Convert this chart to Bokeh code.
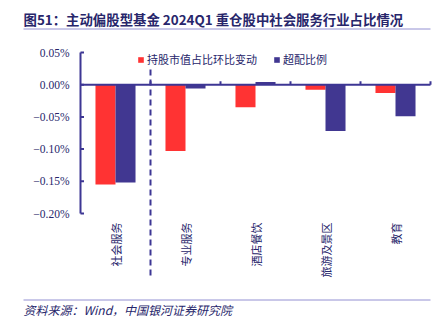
import math
from bokeh.plotting import figure
from bokeh.models import Range1d, Label
from bokeh.core.properties import value
from bokeh.embed import file_html
from bokeh.resources import INLINE
from bokeh.models import Legend, LegendItem

# ---- data ----
categories = ["社会服务", "专业服务", "酒店餐饮", "旅游及景区", "教育"]
mv_change = [-0.155, -0.103, -0.035, -0.008, -0.013]    # 持股市值占比环比变动 (%)
overweight = [-0.152, -0.006, 0.004, -0.072, -0.049]    # 超配比例 (%)
series_names = ["持股市值占比环比变动", "超配比例"]
y_ticks = [0.05, 0.0, -0.05, -0.10, -0.15, -0.20]
y_tick_labels = ["0.05%", "0.00%", "\u22120.05%", "\u22120.10%", "\u22120.15%", "\u22120.20%"]
title_text = "图51：主动偏股型基金 2024Q1 重仓股中社会服务行业占比情况"
source_text = "资料来源：Wind，中国银河证券研究院"

# ---- style ----
RED = "#FF3333"
PURPLE = "#413791"
AXIS = "#3d3694"
TEXT = "#27266b"
RULE = "#9390d2"
CJK = "Noto Sans CJK SC"
SERIF = "Liberation Serif"

W, H = 440, 322
PLOT_L, PLOT_R = 80, 430          # pixel extent of the category area
PX = 644.0                        # pixels per percentage point (y)
UX = (PLOT_R - PLOT_L) / len(categories)   # pixels per category (x)
y_top = 0.05 + 52 / PX
y_bot = -0.20 - (H - 213) / PX
x_start = -PLOT_L / UX
x_end = len(categories) + (W - PLOT_R) / UX

p = figure(width=W, height=H, x_range=Range1d(x_start, x_end), y_range=Range1d(y_bot, y_top),
           output_backend="svg", toolbar_location=None, x_axis_location=None, y_axis_location=None,
           min_border=0)
p.outline_line_color = None
p.grid.visible = False
p.background_fill_color = "white"

centers = [i + 0.5 for i in range(len(categories))]
bw = 0.286
r1 = p.vbar(x=[c - bw / 2 for c in centers], top=mv_change, bottom=0, width=bw,
            fill_color=RED, line_color=None)
r2 = p.vbar(x=[c + bw / 2 for c in centers], top=overweight, bottom=0, width=bw,
            fill_color=PURPLE, line_color=None)

# y axis (drawn in data space)
p.segment(x0=0, y0=min(y_ticks), x1=0, y1=max(y_ticks), line_color=AXIS, line_width=2)
p.segment(x0=0, y0=y_ticks, x1=3.5 / UX, y1=y_ticks, line_color=AXIS, line_width=2)
p.text(x=-11 / UX, y=y_ticks, text=y_tick_labels, text_align="right", text_baseline="middle",
       text_font=value(SERIF), text_font_size="11.5px", text_color=TEXT)

# zero line and its ticks
p.segment(x0=0, y0=0, x1=len(categories), y1=0, line_color=AXIS, line_width=2)
bounds = list(range(1, len(categories) + 1))
p.segment(x0=bounds, y0=0, x1=bounds, y1=3.5 / PX, line_color=AXIS, line_width=2)

# dashed divider
p.segment(x0=1, y0=0.05 - 17 / PX, x1=1, y1=-0.20 - 64 / PX,
          line_color=AXIS, line_width=2, line_dash="6 4")

# category labels (vertical)
p.text(x=centers, y=-0.20 - 9 / PX, text=categories, angle=math.pi / 2,
       text_align="right", text_baseline="middle",
       text_font=value(CJK), text_font_size="11px", text_color=TEXT)

legend = Legend(items=[LegendItem(label=series_names[0], renderers=[r1]),
                       LegendItem(label=series_names[1], renderers=[r2])],
                orientation="horizontal", location=(137, 255),
                glyph_width=7, glyph_height=7, label_standoff=3, spacing=16,
                padding=0, margin=0, border_line_color=None, background_fill_alpha=0,
                label_text_font=CJK, label_text_font_size="11px", label_text_color=TEXT,
                label_height=12)
p.add_layout(legend)

# title and source
p.add_layout(Label(x=23, y=H - 18, x_units="screen", y_units="screen", text=title_text,
                   text_baseline="middle", text_font=CJK, text_font_size="13.4px",
                   text_font_style="bold", text_color=TEXT))
p.segment(x0=(23 - PLOT_L) / UX, y0=y_top - 28.5 / PX, x1=len(categories), y1=y_top - 28.5 / PX,
          line_color=RULE, line_width=1)
p.segment(x0=(23 - PLOT_L) / UX, y0=y_top - 299.5 / PX, x1=len(categories), y1=y_top - 299.5 / PX,
          line_color=RULE, line_width=1)
p.add_layout(Label(x=23, y=H - 309, x_units="screen", y_units="screen", text=source_text,
                   text_baseline="middle", text_font=CJK, text_font_size="12px",
                   text_font_style="italic", text_color=TEXT))

open("out.html", "w").write(file_html(p, INLINE))
